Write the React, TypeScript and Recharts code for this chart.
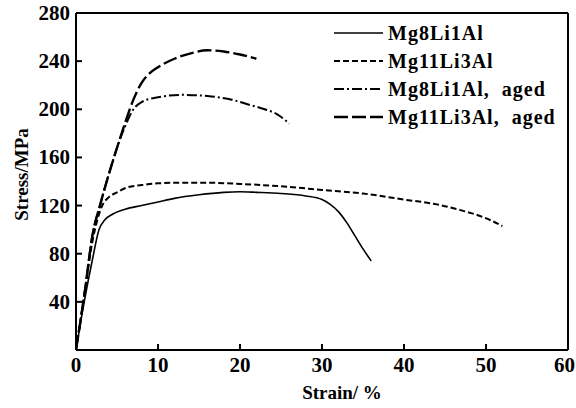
import React from 'react';
import { LineChart, Line, XAxis, YAxis, ReferenceLine, Label } from 'recharts';

const strainTicks = [0, 10, 20, 30, 40, 50, 60];
const stressTicks = [0, 40, 80, 120, 160, 200, 240, 280];

const mg8Strain = [0, 1, 2, 2.8, 3.5, 4.5, 6, 8, 10, 12, 15, 18, 20, 22, 25, 28, 30, 31, 32, 33, 34, 35, 36];
const mg8Stress = [0, 40, 75, 100, 108, 113, 117, 120, 123, 126, 129, 131, 131.5, 131, 130, 128, 125, 121, 115, 106, 95, 84, 74];

const mg11Strain = [0, 1, 2, 2.6, 3.2, 4, 5, 6.2, 8, 10, 13, 16, 20, 25, 30, 35, 40, 44, 47, 49, 50.5, 52];
const mg11Stress = [0, 45, 90, 108, 120, 127, 131, 135, 137, 138.5, 139, 139, 138, 136, 133, 130, 125, 121, 116, 112, 108, 103];

const mg8AgedStrain = [0, 1, 2, 3, 4, 5, 6, 7, 8, 10, 13, 16, 19, 21, 23, 24.5, 25.5, 26];
const mg8AgedStress = [0, 45, 95, 122, 146, 168, 186, 200, 206, 210, 212, 211, 208, 204, 200, 196, 191, 188];

const mg11AgedStrain = [0, 1, 2, 3, 4, 5, 6, 7, 8, 9, 10, 12, 14, 16, 18, 20, 22];
const mg11AgedStress = [0, 45, 95, 122, 146, 168, 189, 208, 222, 230, 235, 242, 246.5, 249, 248, 245.5, 242];

const seriesNames = ['Mg8Li1Al', 'Mg11Li3Al', 'Mg8Li1Al,  aged', 'Mg11Li3Al,  aged'];

const toPoints = (xs: number[], ys: number[]) => xs.map((x, i) => ({ x, y: ys[i] }));

const FONT = '"Liberation Serif", "Times New Roman", serif';

const series = [
  { name: seriesNames[0], data: toPoints(mg8Strain, mg8Stress), width: 1.6, dash: undefined as string | undefined },
  { name: seriesNames[1], data: toPoints(mg11Strain, mg11Stress), width: 2, dash: '6 3' },
  { name: seriesNames[2], data: toPoints(mg8AgedStrain, mg8AgedStress), width: 2, dash: '10 3 2 3' },
  { name: seriesNames[3], data: toPoints(mg11AgedStrain, mg11AgedStress), width: 2.4, dash: '14 4' },
];

const TICK_MARGIN = 6;

const YTick = (p: any) => {
  const { x, y, payload } = p;
  const ax = x + TICK_MARGIN;
  return (
    <g>
      <line x1={ax} x2={ax + 6} y1={y} y2={y} stroke="#000" strokeWidth={2} />
      {payload.value !== 0 && (
        <text x={x} y={y} textAnchor="end" dominantBaseline="central" fontFamily={FONT} fontWeight="bold" fontSize={21} fill="#000">
          {payload.value}
        </text>
      )}
    </g>
  );
};

const XTick = (p: any) => {
  const { x, y, payload, index } = p;
  const ay = y - TICK_MARGIN;
  const last = index === strainTicks.length - 1;
  return (
    <g>
      <line x1={x} x2={x} y1={ay} y2={ay - 6} stroke="#000" strokeWidth={2} />
      <text
        x={last ? x + 7 : x}
        y={y + 1}
        textAnchor={last ? 'end' : 'middle'}
        dominantBaseline="hanging"
        fontFamily={FONT}
        fontWeight="bold"
        fontSize={21}
        fill="#000"
      >
        {payload.value}
      </text>
    </g>
  );
};

const LegendBox = () => (
  <div style={{ position: 'absolute', left: 334, top: 19, fontFamily: FONT, fontWeight: 'bold', fontSize: 20, letterSpacing: 1, color: '#000', lineHeight: 1 }}>
    {series.map((s) => (
      <div key={s.name} style={{ display: 'flex', alignItems: 'center', height: 28 }}>
        <svg width={50} height={10} style={{ marginRight: 4 }}>
          <line x1={0} x2={49} y1={5} y2={5} stroke="#000" strokeWidth={s.width} strokeDasharray={s.dash} />
        </svg>
        <span style={{ whiteSpace: 'pre' }}>{s.name}</span>
      </div>
    ))}
  </div>
);

export default function App() {
  return (
    <div style={{ position: 'absolute', left: 0, top: 0, width: 576, height: 408, background: '#fff' }}>
      <LineChart width={576} height={408} margin={{ top: 13, right: 8, left: 0, bottom: 0 }}>
        <XAxis
          dataKey="x"
          type="number"
          domain={[0, 60]}
          ticks={strainTicks}
          allowDataOverflow
          height={58}
          tickSize={0}
          tickMargin={TICK_MARGIN}
          tickLine={false}
          tick={<XTick />}
          axisLine={{ stroke: '#000', strokeWidth: 2 }}
        >
          <Label
            content={(props: any) => {
              const vb = props.viewBox;
              return (
                <text x={vb.x + vb.width / 2 + 20} y={vb.y + 42} textAnchor="middle" dominantBaseline="central" fontFamily={FONT} fontWeight="bold" fontSize={19} fill="#000">
                  Strain/ %
                </text>
              );
            }}
          />
        </XAxis>
        <YAxis
          type="number"
          domain={[0, 280]}
          ticks={stressTicks}
          allowDataOverflow
          width={76}
          tickSize={0}
          tickMargin={TICK_MARGIN}
          tickLine={false}
          tick={<YTick />}
          axisLine={{ stroke: '#000', strokeWidth: 2 }}
        >
          <Label
            content={(props: any) => {
              const vb = props.viewBox;
              const cx = vb.x + 21;
              const cy = vb.y + vb.height / 2 - 7;
              return (
                <text x={cx} y={cy} transform={`rotate(-90 ${cx} ${cy})`} textAnchor="middle" dominantBaseline="central" fontFamily={FONT} fontWeight="bold" fontSize={19} fill="#000">
                  Stress/MPa
                </text>
              );
            }}
          />
        </YAxis>
        <ReferenceLine y={280} stroke="#000" strokeWidth={2} />
        <ReferenceLine x={60} stroke="#000" strokeWidth={2} />
        {series.map((s) => (
          <Line
            key={s.name}
            data={s.data}
            dataKey="y"
            name={s.name}
            type="monotone"
            stroke="#000"
            strokeWidth={s.width}
            strokeDasharray={s.dash}
            dot={false}
            activeDot={false}
            isAnimationActive={false}
          />
        ))}
      </LineChart>
      <LegendBox />
    </div>
  );
}
